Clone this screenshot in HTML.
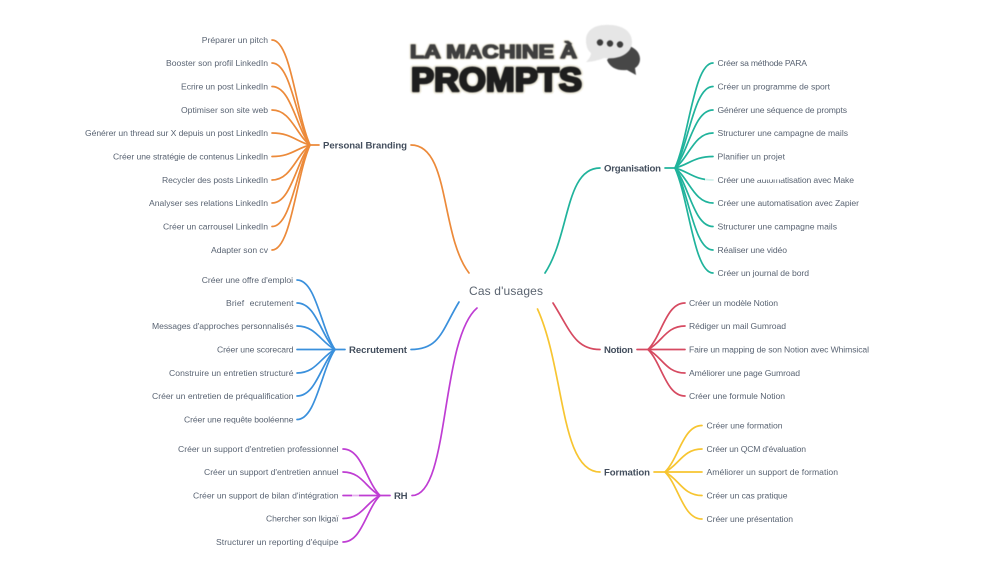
<!DOCTYPE html>
<html lang="fr">
<head>
<meta charset="utf-8">
<title>La machine à prompts</title>
<style>
html,body{margin:0;padding:0;background:#fff;width:1005px;height:565px;overflow:hidden}
svg{display:block;filter:blur(.3px)}
text{font-family:"Liberation Sans",sans-serif}
.i{font-size:8.6px;fill:#5a6473}
.b{font-size:9.6px;font-weight:bold;fill:#434e5d}
.o path{stroke:#ec8a3a}.u path{stroke:#3a90dc}.p path{stroke:#bf3dd3}
.t path{stroke:#20b39c}.r path{stroke:#d64a61}.y path{stroke:#f7c531}
</style>
</head>
<body>
<svg width="1005" height="565" viewBox="0 0 1005 565" xmlns="http://www.w3.org/2000/svg">
<g fill="none" stroke-width="1.7" stroke-linecap="round">
<g class="o">
<path d="M411,145 C450,145 440,235 469,273"/>
<path d="M308,145H319"/>
<path d="M272,40C291,40 296,113.500 310,145"/>
<path d="M272,63C291,63 296,120.400 310,145"/>
<path d="M272,86.500C291,86.500 296,127.450 310,145"/>
<path d="M272,110C291,110 296,134.500 310,145"/>
<path d="M272,133C291,133 296,141.400 310,145"/>
<path d="M272,156.500C291,156.500 296,148.450 310,145"/>
<path d="M272,180C291,180 296,155.500 310,145"/>
<path d="M272,203C291,203 296,162.400 310,145"/>
<path d="M272,226.500C291,226.500 296,169.450 310,145"/>
<path d="M272,250C291,250 296,176.500 310,145"/>
</g>
<g class="u">
<path d="M411,349.500C440,349.500 442,330 459,302"/>
<path d="M333,349.500H345"/>
<path d="M297,280C316,280 321,328.650 335,349.500"/>
<path d="M297,303C316,303 321,335.550 335,349.500"/>
<path d="M297,326C316,326 321,342.450 335,349.500"/>
<path d="M297,349.500H335"/>
<path d="M297,373C316,373 321,356.550 335,349.500"/>
<path d="M297,396C316,396 321,363.450 335,349.500"/>
<path d="M297,419.500C316,419.500 321,370.500 335,349.500"/>
</g>
<g class="p">
<path d="M412,495.500C450,495.500 440,340 477,308"/>
<path d="M378,495.500H390"/>
<path d="M343,449C362,449 366,481.550 380,495.500"/>
<path d="M343,472C362,472 366,488.450 380,495.500"/>
<path d="M343,495.500H380"/>
<path d="M343,518.500C362,518.500 366,502.400 380,495.500"/>
<path d="M343,542C362,542 366,509.450 380,495.500"/>
</g>
<g class="t">
<path d="M600,168C565,168 570,235 545,273"/>
<path d="M665,168H677"/>
<path d="M713,63C694,63 689,136.500 675,168"/>
<path d="M713,86.500C694,86.500 689,143.550 675,168"/>
<path d="M713,110C694,110 689,150.600 675,168"/>
<path d="M713,133C694,133 689,157.500 675,168"/>
<path d="M713,156.500C694,156.500 689,164.550 675,168"/>
<path d="M713,180C694,180 689,171.600 675,168"/>
<path d="M713,203C694,203 689,178.500 675,168"/>
<path d="M713,226.500C694,226.500 689,185.550 675,168"/>
<path d="M713,250C694,250 689,192.600 675,168"/>
<path d="M713,273C694,273 689,199.500 675,168"/>
</g>
<g class="r">
<path d="M600,349.500C575,349.500 570,330 553,303"/>
<path d="M637,349.500H650"/>
<path d="M685,303C666,303 662,335.550 648,349.500"/>
<path d="M685,326C666,326 662,342.450 648,349.500"/>
<path d="M685,349.500H648"/>
<path d="M685,373C666,373 662,356.550 648,349.500"/>
<path d="M685,396C666,396 662,363.450 648,349.500"/>
</g>
<g class="y">
<path d="M600,472C560,472 565,370 537.500,309"/>
<path d="M654,472H667"/>
<path d="M702,425.500C683,425.500 679,458.050 665,472"/>
<path d="M702,449C683,449 679,465.100 665,472"/>
<path d="M702,472H665"/>
<path d="M702,495.500C683,495.500 679,479.050 665,472"/>
<path d="M702,519C683,519 679,486.100 665,472"/>
</g>
</g>

<text x="469" y="295" font-size="12" fill="#5b6470" textLength="74">Cas d'usages</text>

<text class="b" x="323" y="148.300" textLength="84">Personal Branding</text>
<text class="b" x="349" y="352.800" textLength="58">Recrutement</text>
<text class="b" x="394" y="498.800" textLength="13.500">RH</text>
<text class="b" x="604" y="171.300" textLength="57">Organisation</text>
<text class="b" x="604" y="352.800" textLength="29">Notion</text>
<text class="b" x="604" y="475.300" textLength="46">Formation</text>

<text class="i" x="201.700" y="43" textLength="66.300">Préparer un pitch</text>
<text class="i" x="166" y="66" textLength="102">Booster son profil LinkedIn</text>
<text class="i" x="181" y="89.500" textLength="87">Ecrire un post LinkedIn</text>
<text class="i" x="181" y="113" textLength="87">Optimiser son site web</text>
<text class="i" x="85" y="136" textLength="183">Générer un thread sur X depuis un post LinkedIn</text>
<text class="i" x="113" y="159.500" textLength="155">Créer une stratégie de contenus LinkedIn</text>
<text class="i" x="162" y="183" textLength="106">Recycler des posts LinkedIn</text>
<text class="i" x="149" y="206" textLength="119">Analyser ses relations LinkedIn</text>
<text class="i" x="163" y="229.500" textLength="105">Créer un carrousel LinkedIn</text>
<text class="i" x="211" y="253" textLength="57">Adapter son cv</text>

<text class="i" x="201.700" y="283" textLength="91.300">Créer une offre d'emploi</text>
<text class="i" x="226" y="306" textLength="67.500">Brief recrutement</text>
<text class="i" x="152" y="329" textLength="141.500">Messages d'approches personnalisés</text>
<text class="i" x="217" y="352.500" textLength="76.500">Créer une scorecard</text>
<text class="i" x="169" y="376" textLength="124.500">Construire un entretien structuré</text>
<text class="i" x="152" y="399" textLength="141.500">Créer un entretien de préqualification</text>
<text class="i" x="184" y="422.500" textLength="109.500">Créer une requête booléenne</text>

<text class="i" x="178" y="452" textLength="160.500">Créer un support d'entretien professionnel</text>
<text class="i" x="204" y="475" textLength="134.500">Créer un support d'entretien annuel</text>
<text class="i" x="193" y="498.500" textLength="145.500">Créer un support de bilan d'intégration</text>
<text class="i" x="266" y="521.500" textLength="72.500">Chercher son Ikigaï</text>
<text class="i" x="216" y="545" textLength="122.500">Structurer un reporting d'équipe</text>

<text class="i" x="717.500" y="66" textLength="89.500">Créer sa méthode PARA</text>
<text class="i" x="717.500" y="89.500" textLength="112.500">Créer un programme de sport</text>
<text class="i" x="717.500" y="113" textLength="129.500">Générer une séquence de prompts</text>
<text class="i" x="717.500" y="136" textLength="130.500">Structurer une campagne de mails</text>
<text class="i" x="717.500" y="159.500" textLength="67.500">Planifier un projet</text>
<text class="i" x="717.500" y="183" textLength="136.500">Créer une automatisation avec Make</text>
<text class="i" x="717.500" y="206" textLength="141.500">Créer une automatisation avec Zapier</text>
<text class="i" x="717.500" y="229.500" textLength="119.500">Structurer une campagne mails</text>
<text class="i" x="717.500" y="253" textLength="69.500">Réaliser une vidéo</text>
<text class="i" x="717.500" y="276" textLength="91.500">Créer un journal de bord</text>

<text class="i" x="689" y="306" textLength="89">Créer un modèle Notion</text>
<text class="i" x="689" y="329" textLength="97">Rédiger un mail Gumroad</text>
<text class="i" x="689" y="352.500" textLength="180">Faire un mapping de son Notion avec Whimsical</text>
<text class="i" x="689" y="376" textLength="111">Améliorer une page Gumroad</text>
<text class="i" x="689" y="399" textLength="96">Créer une formule Notion</text>

<text class="i" x="706.500" y="428.500" textLength="76">Créer une formation</text>
<text class="i" x="706.500" y="452" textLength="99.500">Créer un QCM d'évaluation</text>
<text class="i" x="706.500" y="475" textLength="131.500">Améliorer un support de formation</text>
<text class="i" x="706.500" y="498.500" textLength="81">Créer un cas pratique</text>
<text class="i" x="706.500" y="522" textLength="86.500">Créer une présentation</text>

<rect x="246" y="299" width="4" height="8" fill="#fff"/>
<rect x="757" y="176" width="26" height="3.500" fill="#fff"/>
<rect x="705" y="178.500" width="9" height="3" fill="#fff" opacity=".8"/>
<rect x="352" y="494" width="7" height="3" fill="#fff" opacity=".6"/>

<g font-weight="bold" stroke-linejoin="round" style="filter:blur(.5px)">
<text x="410" y="58" font-size="18" fill="#3f3f3f" stroke="#efecdf" stroke-width="3.500" paint-order="stroke" textLength="167" lengthAdjust="spacingAndGlyphs">LA MACHINE À</text>
<text x="410" y="58" font-size="18" fill="#3f3f3f" stroke="#3f3f3f" stroke-width="1.400" textLength="167" lengthAdjust="spacingAndGlyphs">LA MACHINE À</text>
<text x="411" y="91" font-size="33" fill="#1e1e1e" stroke="#efecdf" stroke-width="6" paint-order="stroke" textLength="171" lengthAdjust="spacingAndGlyphs">PROMPTS</text>
<text x="411" y="91" font-size="33" fill="#1e1e1e" stroke="#1e1e1e" stroke-width="2.500" textLength="171" lengthAdjust="spacingAndGlyphs">PROMPTS</text>
</g>
<g style="filter:blur(.5px)">
<path d="M620,45 C630,44 640,50 640,59 C640,64 637,67 635,68 L636,75 L627,70 C618,71 610,68 607,60 Z" fill="#474747"/>
<path d="M605,25 C620,24 632,30 632,42 C632,54 618,60 604,58 C599,60 592,62 586,62 C589,59 591,56 591,53 C587,50 586,45 586,40 C586,31 594,25 605,25 Z" fill="#e6e6e6"/>
<circle cx="600" cy="42.500" r="3.200" fill="#3c3c3c"/>
<circle cx="610" cy="43.500" r="3.200" fill="#3c3c3c"/>
<circle cx="620" cy="44.500" r="3.200" fill="#3c3c3c"/>
</g>
</svg>
</body>
</html>
